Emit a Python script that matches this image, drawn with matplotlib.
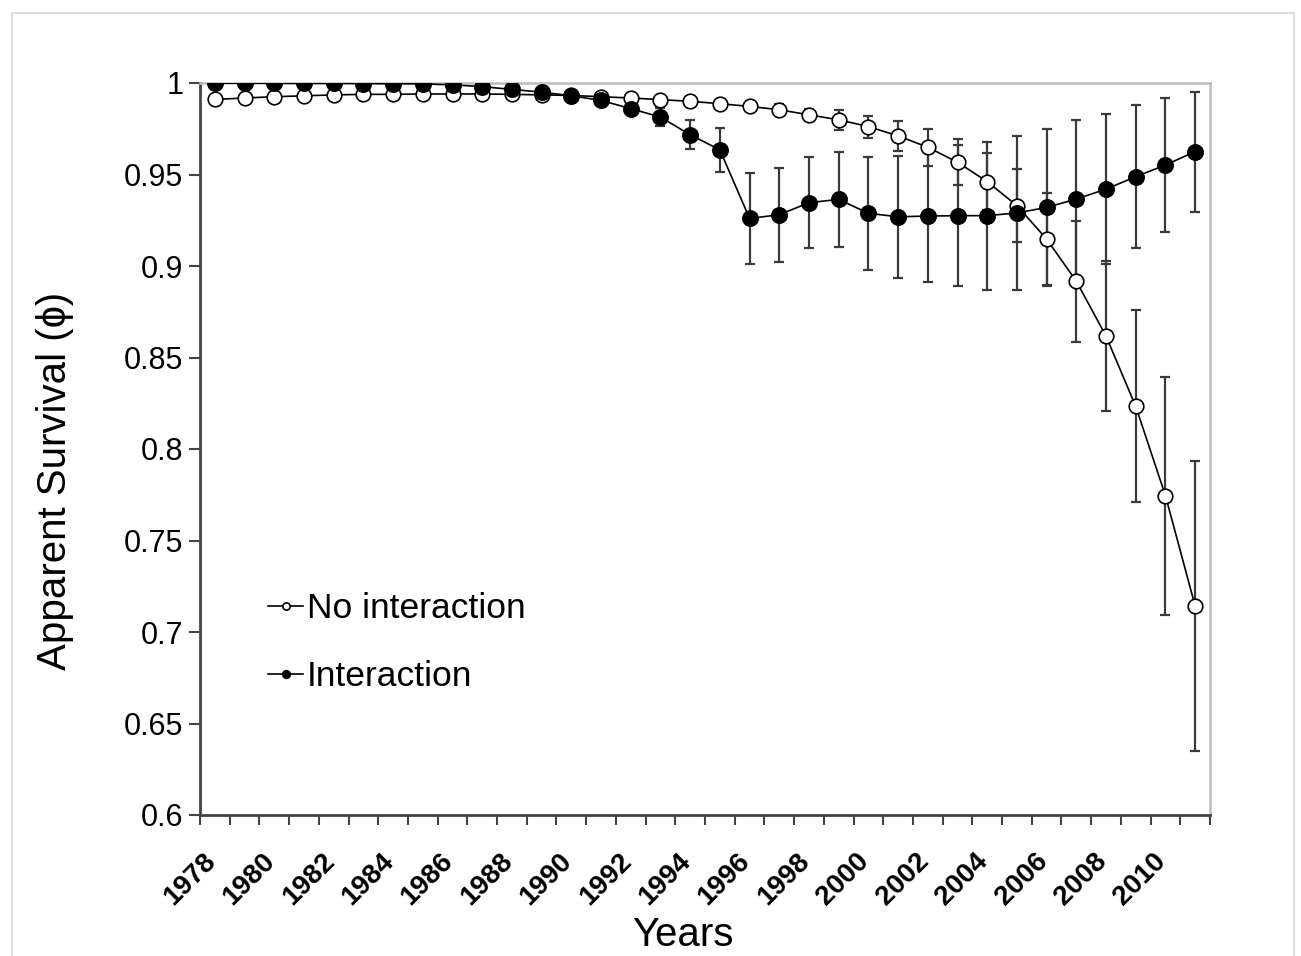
import matplotlib
matplotlib.use("Agg")
import matplotlib.pyplot as plt
import matplotlib.transforms as mtransforms
from matplotlib.patches import Rectangle
from matplotlib.ticker import FixedLocator, FuncFormatter

plt.rcParams['font.family'] = ['Liberation Sans', 'DejaVu Sans']

# ---------------- data ----------------
years = list(range(1978, 2012))

no_interaction = [0.9910, 0.9918, 0.9925, 0.9930, 0.9935, 0.9938, 0.9938, 0.9940,
                  0.9940, 0.9940, 0.9938, 0.9935, 0.9932, 0.9925, 0.9918, 0.9909,
                  0.9900, 0.9887, 0.9872, 0.9854, 0.9826, 0.9799, 0.9762, 0.9711,
                  0.9649, 0.9567, 0.9461, 0.9330, 0.9147, 0.8917, 0.8617, 0.8233,
                  0.7745, 0.7142]
no_interaction_err = [0.0012, 0.0012, 0.0011, 0.0011, 0.0010, 0.0010, 0.0010, 0.0010,
                      0.0010, 0.0010, 0.0011, 0.0011, 0.0012, 0.0013, 0.0014, 0.0016,
                      0.0018, 0.0020, 0.0025, 0.0030, 0.0032, 0.0055, 0.0060, 0.0083,
                      0.0100, 0.0126, 0.0155, 0.0200, 0.0250, 0.0330, 0.0410, 0.0525,
                      0.0650, 0.0790]

interaction = [0.9999, 0.9999, 0.9999, 0.9998, 0.9998, 0.9997, 0.9996, 0.9995,
               0.9990, 0.9980, 0.9965, 0.9950, 0.9930, 0.9905, 0.9860, 0.9814,
               0.9717, 0.9635, 0.9260, 0.9280, 0.9346, 0.9364, 0.9288, 0.9269,
               0.9273, 0.9275, 0.9275, 0.9290, 0.9320, 0.9366, 0.9420, 0.9488,
               0.9552, 0.9625]
interaction_err = [0.0002, 0.0002, 0.0002, 0.0003, 0.0003, 0.0004, 0.0005, 0.0006,
                   0.0008, 0.0010, 0.0012, 0.0015, 0.0018, 0.0022, 0.0030, 0.0050,
                   0.0080, 0.0120, 0.0250, 0.0256, 0.0250, 0.0260, 0.0310, 0.0334,
                   0.0360, 0.0385, 0.0405, 0.0420, 0.0430, 0.0430, 0.0410, 0.0390,
                   0.0365, 0.0328]

xtick_years = list(range(1978, 2011, 2))
xtick_labels = [str(y) for y in xtick_years]
ytick_values = [0.6, 0.65, 0.7, 0.75, 0.8, 0.85, 0.9, 0.95, 1.0]
series_labels = ["No interaction", "Interaction"]

# ---------------- figure ----------------
W, H = 1301, 956
fig = plt.figure(figsize=(W / 100, H / 100), dpi=100)
fig.patch.set_facecolor("white")

# outer light frame
fig.patches.append(Rectangle((12 / W, -0.01), (1294 - 12) / W, 1 - 13 / H + 0.01,
                             transform=fig.transFigure, fill=False,
                             edgecolor="#dddddd", linewidth=1.5, zorder=0))

ax = fig.add_axes([200 / W, 1 - 815 / H, 1010 / W, 732 / H])

err_color = "#3a3a3a"
ax.errorbar(years, no_interaction, yerr=no_interaction_err, fmt="none",
            ecolor=err_color, elinewidth=1.6, capsize=3.3, capthick=1.6, zorder=2)
ax.errorbar(years, interaction, yerr=interaction_err, fmt="none",
            ecolor=err_color, elinewidth=1.6, capsize=3.3, capthick=1.6, zorder=2)

ax.plot(years, no_interaction, color="black", lw=1.2, marker="o", markersize=10.5,
        markerfacecolor="white", markeredgecolor="black", markeredgewidth=1.2,
        label=series_labels[0], zorder=3)
ax.plot(years, interaction, color="black", lw=1.2, marker="o", markersize=11,
        markerfacecolor="black", markeredgecolor="black", markeredgewidth=1.2,
        label=series_labels[1], zorder=4)

ax.set_xlim(years[0] - 0.5, years[-1] + 0.5)
ax.set_ylim(0.6, 1.0)

# y axis
ax.yaxis.set_major_locator(FixedLocator(ytick_values))
ax.yaxis.set_major_formatter(FuncFormatter(lambda v, p: "%g" % round(v, 2)))
ax.tick_params(axis="y", direction="out", length=8, width=1.5, color="#444444",
               labelsize=22, pad=4, labelcolor="black")

# x axis: minor ticks at category boundaries, labels on even years
ax.set_xticks(xtick_years)
ax.set_xticklabels(xtick_labels, rotation=45, ha="right", va="top",
                   fontsize=20, fontweight="bold")
ax.set_xticks([y - 0.5 for y in years] + [years[-1] + 0.5], minor=True)
ax.tick_params(axis="x", which="major", length=0, pad=24)
ax.tick_params(axis="x", which="minor", direction="out", length=7, width=1.5,
               color="#444444")
offset = mtransforms.ScaledTranslation(6 / 100, 0, fig.dpi_scale_trans)
for lab in ax.get_xticklabels():
    lab.set_transform(lab.get_transform() + offset)

for side in ["left", "bottom"]:
    ax.spines[side].set_color("#444444")
    ax.spines[side].set_linewidth(2.0)
for side in ["top", "right"]:
    ax.spines[side].set_color("#bdbdbd")
    ax.spines[side].set_linewidth(1.8)

# labels
fig.text(55 / W, 1 - 481 / H, "Apparent Survival (ɸ)", rotation=90,
         ha="center", va="center", fontsize=29)
fig.text(683 / W, 1.5 / H, "Years", ha="center", va="bottom", fontsize=29)

# legend
leg = ax.legend(loc="upper left", bbox_to_anchor=(68 / 1010, (815 - 592) / 732),
                frameon=False, fontsize=25.5, handlelength=1.0, handletextpad=0.1,
                labelspacing=1.0, markerscale=0.5, borderpad=0, borderaxespad=0)

fig.savefig("out.png", dpi=100, facecolor="white")
